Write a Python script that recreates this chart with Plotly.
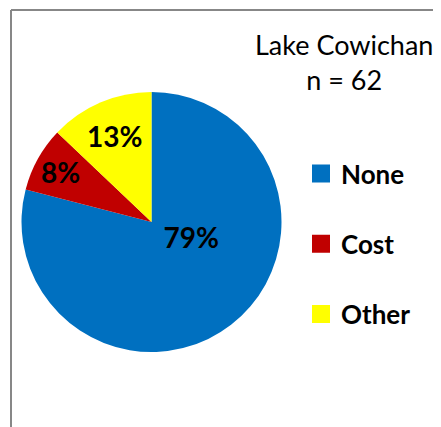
import plotly.graph_objects as go

categories = ["None", "Cost", "Other"]
counts = [49, 5, 8]
colors = ["#0070C0", "#C00000", "#FFFF00"]
title_lines = ["Lake Cowichan", "n = 62"]

# page body has an 8px margin; the figure is sized to fill the rest
OFF = 8
W, H = 441 - OFF, 427 - OFF
FONT = "Lato"


def px(x):
    return (x - OFF) / W


def py(y):
    return 1 - (y - OFF) / H


# per-slice label templates (blank lines nudge the big label inside its slice)
label_templates = ["%{percent:.0%}<br> <br> ", "%{percent:.0%}", "%{percent:.0%}"]

fig = go.Figure()
fig.add_trace(go.Pie(
    labels=categories, values=counts, sort=False, direction="clockwise",
    rotation=0, marker=dict(colors=colors, line=dict(width=0)),
    texttemplate=label_templates, textposition="inside",
    insidetextorientation="horizontal",
    textfont=dict(family=FONT, size=28, color="black", weight="bold"),
    domain=dict(x=[px(21.5), px(281.5)], y=[py(352), py(92)]),
    showlegend=False, hoverinfo="label+percent",
))
for c, col in zip(categories, colors):
    fig.add_trace(go.Scatter(
        x=[None], y=[None], mode="markers", name=c, legendgroup=c,
        marker=dict(symbol="square", size=16, color=col,
                    line=dict(color=col, width=2)),
        showlegend=True,
    ))

fig.add_annotation(
    text="<br>".join(title_lines), xref="paper", yref="paper",
    x=px(344), y=py(62), xanchor="center", yanchor="middle",
    showarrow=False, font=dict(family=FONT, size=27, color="black"),
)
fig.add_shape(type="line", xref="paper", yref="paper", x0=px(11), x1=1.05,
              y0=py(10), y1=py(10), line=dict(color="#878787", width=2))
fig.add_shape(type="line", xref="paper", yref="paper", x0=px(11), x1=px(11),
              y0=py(10), y1=-0.05, line=dict(color="#878787", width=2))

fig.update_layout(
    width=W, height=H, margin=dict(l=0, r=0, t=0, b=0),
    paper_bgcolor="white", plot_bgcolor="white",
    xaxis=dict(visible=False), yaxis=dict(visible=False),
    legend=dict(x=px(301), y=py(150), xanchor="left", yanchor="top",
                font=dict(family=FONT, size=26, color="black", weight="bold"),
                tracegroupgap=33.5, bgcolor="rgba(0,0,0,0)"),
)
fig.write_html("out.html")
